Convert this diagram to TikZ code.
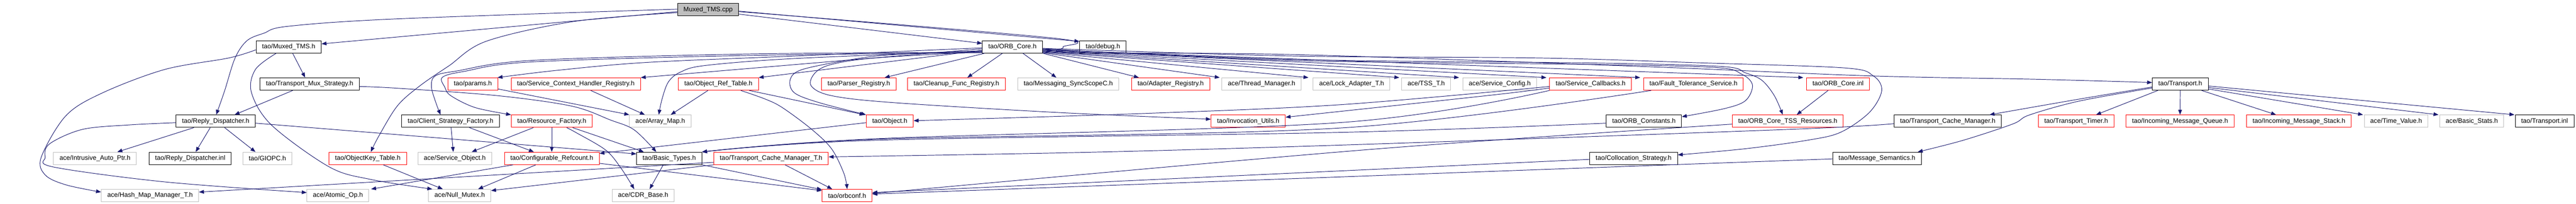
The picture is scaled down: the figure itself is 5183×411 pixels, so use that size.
\documentclass[tikz,border=0pt]{standalone}
\usepackage{fontspec}
\newfontfamily\lsans{Liberation Sans}
\usetikzlibrary{arrows.meta}
\definecolor{edgeblue}{HTML}{191970}
\definecolor{grey75}{HTML}{BFBFBF}
\tikzset{
  nb/.style={draw=black, rectangle, minimum height=25pt, inner xsep=12pt, inner ysep=0pt,
             line width=1pt, font=\lsans\fontsize{13.1pt}{15pt}\selectfont, text=black},
  nr/.style={nb, draw=red},
  ng/.style={nb, draw=grey75},
  e/.style={draw=edgeblue, line width=1pt, -{Triangle[length=10pt,width=7.5pt]}, fill=none},
  sm/.style={smooth, tension=0.55}
}
\begin{document}
\begin{tikzpicture}[x=1pt,y=-1pt]
\fill[white] (0,0) rectangle (5183,411);
\useasboundingbox (0,0) rectangle (5183,411);
% row 0
\node[nb, fill=grey75] (cpp) at (1424.8,19.5) {Muxed\_TMS.cpp};
% row 1
\node[nb] (muxh) at (580.8,94.5) {tao/Muxed\_TMS.h};
\node[nb] (orbcore) at (2037,94.5) {tao/ORB\_Core.h};
\node[nb] (debug) at (2219,94.5) {tao/debug.h};
% row 2
\node[nb] (tms) at (623,169.5) {tao/Transport\_Mux\_Strategy.h};
\node[nr] (params) at (951.3,169.5) {tao/params.h};
\node[nr] (schr) at (1158.5,169.5) {tao/Service\_Context\_Handler\_Registry.h};
\node[nr] (ort) at (1445.5,169.5) {tao/Object\_Ref\_Table.h};
\node[nr] (parser) at (1727.9,169.5) {tao/Parser\_Registry.h};
\node[nr] (cleanup) at (1924.3,169.5) {tao/Cleanup\_Func\_Registry.h};
\node[ng] (msgsync) at (2149.4,169.5) {tao/Messaging\_SyncScopeC.h};
\node[nr] (adapter) at (2355.5,169.5) {tao/Adapter\_Registry.h};
\node[ng] (thread) at (2538.4,169.5) {ace/Thread\_Manager.h};
\node[ng] (lock) at (2719.4,169.5) {ace/Lock\_Adapter\_T.h};
\node[ng] (tss) at (2869.5,169.5) {ace/TSS\_T.h};
\node[ng] (svcconfig) at (3017.5,169.5) {ace/Service\_Config.h};
\node[nr] (svccb) at (3200.3,169.5) {tao/Service\_Callbacks.h};
\node[nr] (ft) at (3407.2,169.5) {tao/Fault\_Tolerance\_Service.h};
\node[nr] (orbinl) at (3698.2,169.5) {tao/ORB\_Core.inl};
\node[nb] (transport) at (4386.7,169.5) {tao/Transport.h};
% row 3
\node[nb] (rd) at (434,244.5) {tao/Reply\_Dispatcher.h};
\node[nb] (csf) at (906.6,244.5) {tao/Client\_Strategy\_Factory.h};
\node[nr] (rf) at (1110.2,244.5) {tao/Resource\_Factory.h};
\node[ng] (arraymap) at (1328.5,244.5) {ace/Array\_Map.h};
\node[nr] (object) at (1790.3,244.5) {tao/Object.h};
\node[nr] (invutils) at (2511.4,244.5) {tao/Invocation\_Utils.h};
\node[nb] (orbconst) at (3307.6,244.5) {tao/ORB\_Constants.h};
\node[nr] (tssres) at (3597,244.5) {tao/ORB\_Core\_TSS\_Resources.h};
\node[nb] (tcm) at (3918.9,244.5) {tao/Transport\_Cache\_Manager.h};
\node[nr] (ttimer) at (4177.3,244.5) {tao/Transport\_Timer.h};
\node[nr] (imq) at (4386.3,244.5) {tao/Incoming\_Message\_Queue.h};
\node[nr] (ims) at (4625.5,244.5) {tao/Incoming\_Message\_Stack.h};
\node[ng] (timevalue) at (4821.1,244.5) {ace/Time\_Value.h};
\node[ng] (basicstats) at (4973.3,244.5) {ace/Basic\_Stats.h};
\node[nb] (tinl) at (5119.7,244.5) {tao/Transport.inl};
% row 4
\node[ng] (iap) at (191.1,319.5) {ace/Intrusive\_Auto\_Ptr.h};
\node[nb] (rdinl) at (382.7,319.5) {tao/Reply\_Dispatcher.inl};
\node[ng] (giopc) at (538,319.5) {tao/GIOPC.h};
\node[nr] (okt) at (740,319.5) {tao/ObjectKey\_Table.h};
\node[ng] (svcobj) at (915,319.5) {ace/Service\_Object.h};
\node[nr] (cref) at (1110.2,319.5) {tao/Configurable\_Refcount.h};
\node[nb] (basictypes) at (1346.5,319.5) {tao/Basic\_Types.h};
\node[nr] (tcmt) at (1551.5,319.5) {tao/Transport\_Cache\_Manager\_T.h};
\node[nb] (collstrat) at (3286.9,319.5) {tao/Collocation\_Strategy.h};
\node[nb] (msgsem) at (3776.5,319.5) {tao/Message\_Semantics.h};
% row 5
\node[ng] (hmm) at (301.8,394.5) {ace/Hash\_Map\_Manager\_T.h};
\node[ng] (atomic) at (679.9,394.5) {ace/Atomic\_Op.h};
\node[ng] (nullmutex) at (924.9,394.5) {ace/Null\_Mutex.h};
\node[ng] (cdr) at (1294.1,394.5) {ace/CDR\_Base.h};
\node[nr] (orbconf) at (1704.4,394.5) {tao/orbconf.h};

% ---- edges from Muxed_TMS.cpp
\draw[e] ([yshift=-4]cpp.west) -- ([yshift=6]muxh.east);
\draw[e] plot[sm] coordinates {([yshift=1]cpp.west) (800,38) (580,53) (531,67) (497,82) (473,117) (452,183) ([xshift=1]rd.north)};
\draw[e] plot[sm] coordinates {([yshift=-6]cpp.west) (1157,43) (979,83) (903,133) (845,173) (800,213) (763,273) ([xshift=6]okt.north)};
\draw[e] ([yshift=-9]cpp.east) -- ([yshift=7]orbcore.west);
\draw[e] ([yshift=-3]cpp.east) -- ([yshift=11]debug.west);
\draw[e] plot[sm] coordinates {([yshift=-4]cpp.east) (2121,77) (2139,95) (2162,106) (2600,110) (3300,134) (3760,153) (4100,160) ([yshift=3]transport.west)};

% ---- edges from ORB_Core.h (left)
\draw[e] plot[sm] coordinates {([yshift=-2]orbcore.west) (1600,113) (1300,126) (1120,142) ([xshift=-1]params.north east)};
\draw[e] ([yshift=-4]orbcore.west) -- (schr.north east);
\draw[e] ([yshift=-7]orbcore.west) -- (ort.north east);
\draw[e] plot[sm] coordinates {([yshift=-8]orbcore.west) (1600,118) (1420,132) (1370,145) (1345,165) (1332,200) ([xshift=-3]arraymap.north)};
\draw[e] plot[sm] coordinates {([yshift=-9]orbcore.west) (1800,110) (1714,120) (1615,140) (1590,160) (1598,187) (1648,207) (object.north west)};
\draw[e] plot[sm] coordinates {([yshift=-10]orbcore.west) (1760,117) (1673,130) (1640,147) (1632,173) (1673,193) (1797,207) (2129,227) ([yshift=4]invutils.west)};
\draw[e] plot[sm] coordinates {([yshift=-11]orbcore.west) (1500,109) (1068,122) (920,143) (876,153) (868,175) (878,210) ([xshift=-20]csf.north)};
\draw[e] plot[sm] coordinates {([yshift=-12]orbcore.west) (1500,112) (1068,125) (934,144) (890,156) (895,176) (907,193) (956,217) (rf.north west)};
% ---- edges from ORB_Core.h (down / right)
\draw[e] ([xshift=5]orbcore.south west) -- ([xshift=52]parser.north);
\draw[e] ([xshift=-20]orbcore.south) -- ([xshift=22]cleanup.north);
\draw[e] ([xshift=21]orbcore.south) -- ([xshift=-24]msgsync.north);
\draw[e] (orbcore.south east) -- ([xshift=15]adapter.north west);
\draw[e] ([yshift=1]orbcore.south east) -- ([xshift=-4]thread.north west);
\draw[e] ([yshift=2]orbcore.south east) -- ([xshift=-9]lock.north west);
\draw[e] ([yshift=3]orbcore.south east) -- ([xshift=-4]tss.north west);
\draw[e] ([yshift=4]orbcore.south east) -- ([xshift=-7]svcconfig.north west);
\draw[e] ([yshift=5]orbcore.south east) -- ([xshift=-6]svccb.north west);
\draw[e] ([yshift=6]orbcore.south east) -- ([xshift=-6]ft.north west);
\draw[e] ([yshift=7]orbcore.south east) -- ([xshift=-6]orbinl.north west);
\draw[e] plot[sm] coordinates {([yshift=8]orbcore.south east) (2600,120) (3200,127) (3462,134) (3512,147) (3545,162) (3570,193) ([xshift=-10]tssres.north)};
\draw[e] plot[sm] coordinates {([yshift=9]orbcore.south east) (2600,122) (3200,130) (3450,136) (3505,150) (3526,172) (3512,203) (3470,219) ([yshift=9]orbconst.east)};
\draw[e] plot[sm] coordinates {([yshift=10]orbcore.south east) (2600,113) (3097,117) (3429,127) (3711,137) (3769,153) (3786,183) (3761,227) (3703,267) (3636,283) (3512,300) ([yshift=7]collstrat.east)};
\draw[e] ([xshift=-20]orbinl.south) -- ([xshift=18]tssres.north);

% ---- Muxed_TMS.h
\draw[e] plot[sm] coordinates {([yshift=-6]muxh.west) (460,117) (332,140) (207,187) (133,233) (83,317) (91,353) (133,373) ([yshift=7]hmm.west)};
\draw[e] ([xshift=8]muxh.south) -- ([xshift=-9]tms.north);
\draw[e] plot[sm] coordinates {([xshift=-25]muxh.south) (514,140) (506,187) (547,253) (663,337) (746,362) ([xshift=8]nullmutex.north west)};

% ---- Transport_Mux_Strategy.h
\draw[e] ([xshift=-34]tms.south) -- ([xshift=38]rd.north);
\draw[e] plot[sm] coordinates {([yshift=-5]tms.east) (800,178) (1001,193) (1150,214) (1228,242) (1276,262) ([xshift=-26]basictypes.north)};

% ---- Reply_Dispatcher.h
\draw[e] ([xshift=-44]rd.south) -- ([xshift=45]iap.north);
\draw[e] ([xshift=-11]rd.south) -- ([xshift=11]rdinl.north);
\draw[e] ([xshift=18]rd.south) -- ([xshift=-24]giopc.north);
\draw[e] ([yshift=-4]rd.east) -- ([yshift=9]basictypes.west);
\draw[e] plot[sm] coordinates {([yshift=-3]rd.west) (260,252) (166,261) (100,290) (91,317) (108,337) (332,367) ([yshift=6]atomic.west)};

% ---- params / Service_Context_Handler_Registry
\draw[e] ([yshift=-10]params.east) -- (arraymap.north west);
\draw[e] ([xshift=30]schr.south) -- ([xshift=-31]arraymap.north);

% ---- Client_Strategy_Factory / Resource_Factory
\draw[e] ([xshift=1]csf.south) -- ([xshift=-3]svcobj.north);
\draw[e] ([xshift=38]csf.south) -- ([xshift=-36]cref.north);
\draw[e] ([xshift=-37]rf.south) -- ([xshift=34]svcobj.north);
\draw[e] (rf.south) -- (cref.north);
\draw[e] plot[sm] coordinates {([xshift=30]rf.south) (1160,268) (1219,303) (1250,340) ([xshift=-18]cdr.north)};
\draw[e] ([xshift=42]rf.south) -- ([xshift=-51]basictypes.north);

% ---- Object_Ref_Table.h
\draw[e] ([xshift=-21]ort.south) -- ([xshift=21]arraymap.north);
\draw[e] ([xshift=62]ort.south) -- ([xshift=-3]object.north west);
\draw[e] plot[sm] coordinates {([xshift=45]ort.south) (1540,200) (1574,217) (1632,260) (1673,300) (1698,350) (orbconf.north)};

% ---- ObjectKey_Table / Configurable_Refcount / Object / Basic_Types
\draw[e] ([xshift=31]okt.south) -- ([xshift=-34]nullmutex.north);
\draw[e] ([xshift=-78]cref.south) -- ([xshift=4]atomic.north east);
\draw[e] ([xshift=-32]cref.south) -- ([xshift=37]nullmutex.north);
\draw[e] ([yshift=-10]cref.east) -- ([yshift=10]orbconf.west);
\draw[e] ([yshift=-3]object.west) -- ([yshift=10]cref.east);
\draw[e] ([xshift=-12]basictypes.south) -- ([xshift=13]cdr.north);
\draw[e] (basictypes.south east) -- ([yshift=12]orbconf.west);

% ---- Transport_Cache_Manager_T.h / Transport_Cache_Manager.h
\draw[e] ([xshift=28]tcmt.south) -- ([xshift=-30]orbconf.north);
\draw[e] (tcmt.south west) -- ([yshift=10]nullmutex.east);
\draw[e] ([yshift=-8]tcmt.west) -- ([yshift=7]hmm.east);
\draw[e] plot[sm] coordinates {([yshift=-5]tcm.west) (3600,261) (2750,291) (2200,307) ([yshift=3]tcmt.east)};

% ---- ORB_Core_TSS_Resources / ORB_Constants / Service_Callbacks / Fault_Tolerance
\draw[e] plot[sm] coordinates {([yshift=-6]tssres.west) (2750,302) ([yshift=4]orbconf.east)};
\draw[e] plot[sm] coordinates {([yshift=-4]orbconst.west) (2700,267) (1760,283) ([yshift=13]basictypes.east)};
\draw[e] plot[sm] coordinates {(svccb.south west) (2700,247) (1760,280) ([yshift=13]basictypes.east)};
\draw[e] plot[sm] coordinates {([yshift=-8]svccb.west) (3000,192) ([yshift=8]invutils.east)};
\draw[e] plot[sm] coordinates {([yshift=-5]svccb.west) (2700,211) (2300,229) ([yshift=1]object.east)};
\draw[e] plot[sm] coordinates {([xshift=16]ft.south west) (2700,258) (1760,281) ([yshift=13]basictypes.east)};

% ---- Collocation_Strategy / Message_Semantics
\draw[e] ([yshift=-2]collstrat.west) -- ([yshift=6]orbconf.east);
\draw[e] ([yshift=-1]msgsem.west) -- ([yshift=3]orbconf.east);

% ---- Transport.h
\draw[e] plot[sm] coordinates {([yshift=-6]transport.west) (4183,200) ([xshift=84]tcm.north)};
\draw[e] plot[sm] coordinates {([yshift=-8]transport.west) (4183,204) (4083,232) (4050,250) (3950,283) ([xshift=82]msgsem.north)};
\draw[e] ([xshift=-45]transport.south) -- ([xshift=40]ttimer.north);
\draw[e] (transport.south) -- (imq.north);
\draw[e] ([xshift=43]transport.south) -- ([xshift=-46]ims.north);
\draw[e] ([yshift=-10]transport.east) -- ([xshift=-2]timevalue.north west);
\draw[e] ([yshift=-7]transport.east) -- ([xshift=-2]basicstats.north west);
\draw[e] ([yshift=-4]transport.east) -- ([xshift=-1]tinl.north west);
\end{tikzpicture}
\end{document}
